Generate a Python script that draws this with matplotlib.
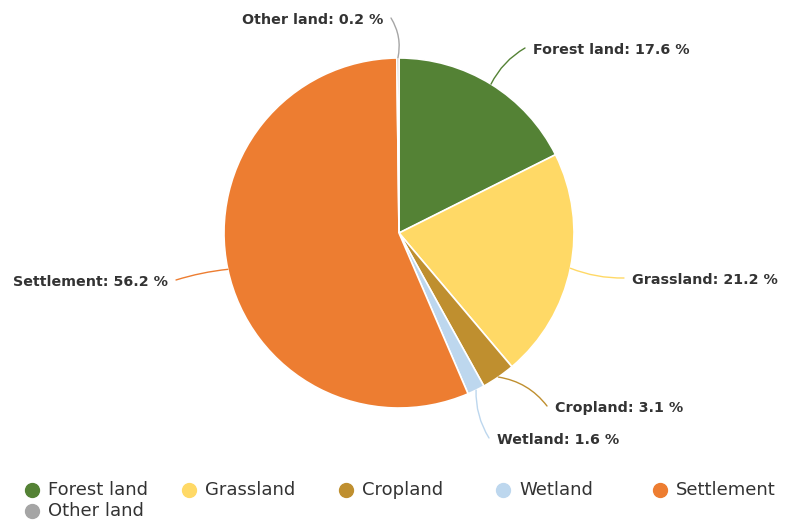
import matplotlib
matplotlib.use("Agg")
import matplotlib.pyplot as plt
import numpy as np

categories = ["Forest land", "Grassland", "Cropland", "Wetland", "Settlement", "Other land"]
values = [17.6, 21.2, 3.1, 1.6, 56.2, 0.2]
colors = ["#548235", "#FFD966", "#BF8F2F", "#BDD7EE", "#ED7D31", "#A5A5A5"]

W, H = 800, 520
fig = plt.figure(figsize=(8, 5.2), dpi=100)
ax = fig.add_axes([0, 0, 1, 1])

cx, cy, R = 399, H - 233, 175
wedges, _ = ax.pie(values, colors=colors, startangle=90, counterclock=False,
                   center=(cx, cy), radius=R,
                   wedgeprops=dict(edgecolor="white", linewidth=1.2))
ax.set_xlim(0, W)
ax.set_ylim(0, H)
ax.set_aspect("equal")
ax.axis("off")

# label text anchors (pixel coords from top-left), alignment, connector rad
label_style = {
    "Forest land": ((533, 50), "left", -0.15),
    "Grassland": ((632, 280), "left", 0.1),
    "Cropland": ((555, 408), "left", -0.2),
    "Wetland": ((497, 440), "left", 0.15),
    "Settlement": ((168, 282), "right", 0.05),
    "Other land": ((383, 20), "right", 0.2),
}

for w, cat, val, col in zip(wedges, categories, values, colors):
    mid = np.deg2rad((w.theta1 + w.theta2) / 2)
    ex, ey = cx + R * np.cos(mid), cy + R * np.sin(mid)
    (tx, ty), ha, rad = label_style[cat]
    ty = H - ty
    endx = tx - 8 if ha == "left" else tx + 8
    ax.annotate("", xy=(endx, ty + 2), xytext=(ex, ey),
                arrowprops=dict(arrowstyle="-", color=col, lw=1,
                                shrinkA=0, shrinkB=0,
                                connectionstyle=f"arc3,rad={rad}"))
    ax.text(tx, ty, f"{cat}: {val} %", ha=ha, va="center",
            fontsize=10.3, fontweight="bold", color="#333333")

# legend
for i, (cat, col) in enumerate(zip(categories, colors)):
    lx = 32 + (i % 5) * 157
    ly = H - (490 + (i // 5) * 21)
    ax.scatter([lx], [ly], s=100, color=col, zorder=3)
    ax.text(lx + 16, ly, cat, ha="left", va="center", fontsize=13,
            color="#333333")

fig.savefig("out.png", dpi=100)
